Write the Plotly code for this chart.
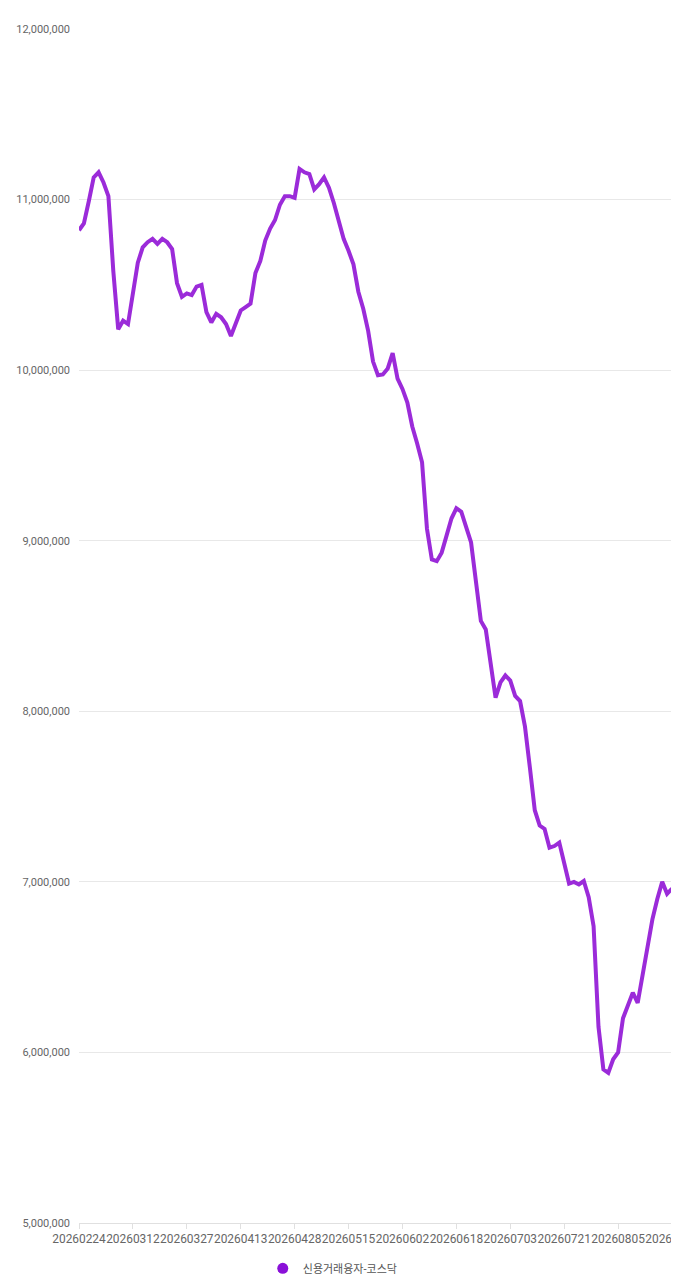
import plotly.graph_objects as go

# 신용거래융자 (코스닥) 일별 잔고
dates = [
    "20260224", "20260225", "20260226", "20260227", "20260303", "20260304",
    "20260305", "20260306", "20260309", "20260310", "20260311", "20260312",
    "20260313", "20260316", "20260317", "20260318", "20260319", "20260320",
    "20260323", "20260324", "20260325", "20260326", "20260327", "20260330",
    "20260331", "20260401", "20260402", "20260403", "20260406", "20260407",
    "20260408", "20260409", "20260410", "20260413", "20260414", "20260415",
    "20260416", "20260417", "20260420", "20260421", "20260422", "20260423",
    "20260424", "20260427", "20260428", "20260429", "20260430", "20260504",
    "20260506", "20260507", "20260508", "20260511", "20260512", "20260513",
    "20260514", "20260515", "20260518", "20260519", "20260520", "20260521",
    "20260522", "20260526", "20260527", "20260528", "20260529", "20260601",
    "20260602", "20260604", "20260605", "20260608", "20260609", "20260610",
    "20260611", "20260612", "20260615", "20260616", "20260617", "20260618",
    "20260619", "20260622", "20260623", "20260624", "20260625", "20260626",
    "20260629", "20260630", "20260701", "20260702", "20260703", "20260706",
    "20260707", "20260708", "20260709", "20260710", "20260713", "20260714",
    "20260715", "20260716", "20260720", "20260721", "20260722", "20260723",
    "20260724", "20260727", "20260728", "20260729", "20260730", "20260731",
    "20260803", "20260804", "20260805", "20260806", "20260807", "20260810",
    "20260811", "20260812", "20260813", "20260814", "20260818", "20260819",
    "20260820", "20260821",
]

kosdaq_credit = [
    10820000, 10860000, 10990000, 11130000, 11160000, 11100000, 11020000, 10580000,
    10240000, 10290000, 10270000, 10450000, 10630000, 10720000, 10750000, 10770000,
    10740000, 10770000, 10750000, 10710000, 10510000, 10430000, 10450000, 10440000,
    10490000, 10500000, 10340000, 10280000, 10330000, 10310000, 10270000, 10200000,
    10280000, 10350000, 10370000, 10390000, 10570000, 10640000, 10760000, 10830000,
    10880000, 10970000, 11020000, 11020000, 11010000, 11180000, 11160000, 11150000,
    11060000, 11090000, 11130000, 11070000, 10980000, 10880000, 10770000, 10700000,
    10620000, 10460000, 10360000, 10230000, 10050000, 9970000, 9975000, 10010000,
    10100000, 9950000, 9890000, 9810000, 9670000, 9570000, 9460000, 9070000,
    8890000, 8880000, 8930000, 9030000, 9130000, 9190000, 9170000, 9080000,
    8990000, 8760000, 8530000, 8480000, 8280000, 8080000, 8170000, 8210000,
    8180000, 8090000, 8060000, 7910000, 7670000, 7420000, 7330000, 7310000,
    7200000, 7210000, 7230000, 7110000, 6990000, 7000000, 6985000, 7005000,
    6910000, 6740000, 6150000, 5900000, 5880000, 5960000, 6000000, 6200000,
    6270000, 6350000, 6290000, 6450000, 6610000, 6780000, 6900000, 7000000,
    6930000, 6960000,
]

series_name = "신용거래융자-코스닥"
y_ticks = [5000000, 6000000, 7000000, 8000000, 9000000, 10000000, 11000000, 12000000]
x_ticks = dates[::11]

LINE_COLOR = "#9b2bd9"

fig = go.Figure()
fig.add_trace(
    go.Scatter(
        x=dates,
        y=kosdaq_credit,
        mode="lines",
        line=dict(color=LINE_COLOR, width=4),
        name=series_name,
        showlegend=False,
    )
)
# legend entry drawn as a round dot
fig.add_trace(
    go.Scatter(
        x=[None],
        y=[None],
        mode="markers",
        marker=dict(color="#8a10d8", size=11, symbol="circle"),
        name=series_name,
    )
)

# page body has an 8px margin, so the figure is sized/placed to compensate
fig.update_layout(
    width=671,
    height=1272,
    margin=dict(l=71, r=7, t=21, b=57, autoexpand=False),
    paper_bgcolor="white",
    plot_bgcolor="white",
    font=dict(family="Roboto, 'Noto Sans CJK KR', sans-serif", size=11, color="#666666"),
    legend=dict(
        orientation="h",
        xref="container",
        x=0.484,
        xanchor="center",
        y=-0.038,
        yanchor="middle",
        font=dict(size=11, color="#555555"),
        itemwidth=30,
    ),
)

fig.update_xaxes(
    type="category",
    range=[0, len(dates) - 1],
    tickmode="array",
    tickvals=x_ticks,
    ticktext=x_ticks,
    tickangle=0,
    automargin=False,
    showgrid=False,
    showline=True,
    linecolor="#e0e0e0",
    linewidth=1,
    ticks="outside",
    ticklen=5,
    tickcolor="#e0e0e0",
    tickfont=dict(size=11.9, color="#666666"),
    zeroline=False,
)
fig.update_yaxes(
    range=[5000000, 12000000],
    tickmode="array",
    tickvals=y_ticks,
    tickformat=",d",
    automargin=False,
    showgrid=True,
    gridcolor="#e8e8e8",
    gridwidth=1,
    showline=False,
    zeroline=False,
    ticks="",
    ticklabelstandoff=8,
    tickfont=dict(size=11, color="#666666"),
)

fig.write_html("out.html")
